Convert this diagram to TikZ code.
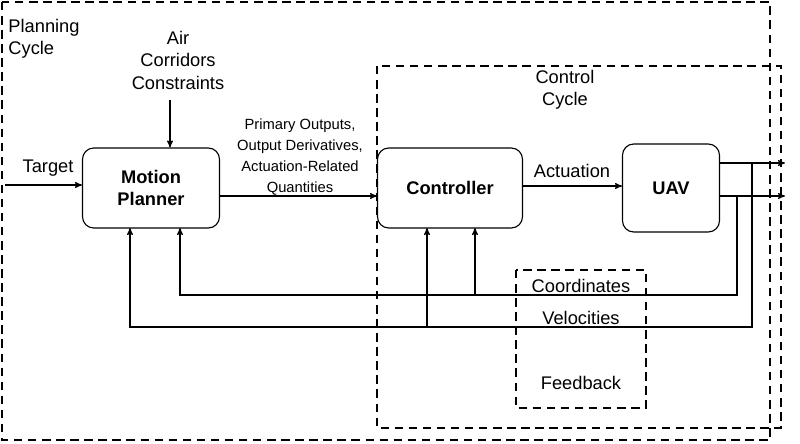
\documentclass[tikz,border=0pt]{standalone}
\usepackage{fontspec}
\setmainfont{Liberation Sans}
\usetikzlibrary{positioning}
\usetikzlibrary{arrows}
\begin{document}
\begin{tikzpicture}[x=0.025cm,y=-0.025cm,->,>=stealth',thick,
	block/.style={draw,rounded corners=8pt,font=\fontsize{13}{16}\selectfont\bfseries,align=center},
	lbl/.style={font=\fontsize{13}{16}\selectfont,align=center},
	small/.style={font=\fontsize{10.5}{15}\selectfont,align=center},
	frame/.style={draw,dash pattern=on 6pt off 4pt,-}]
	
	\useasboundingbox (0,0) rectangle (800,443);
	\draw[frame] (2,2) rectangle (770,440);
	\draw[frame] (377,66) rectangle (781,428);
	\draw[frame] (516,270) rectangle (646,408);
	
	\node[block,minimum width=137*0.025cm,minimum height=80*0.025cm] (mp) at (151,188) {Motion\\Planner};
	\node[block,minimum width=145*0.025cm,minimum height=80*0.025cm] (ctrl) at (450,188) {Controller};
	\node[block,minimum width=97*0.025cm,minimum height=88*0.025cm] (uav) at (671,188) {UAV};
	
	\node[lbl,align=left] (plan) at (44,39) {Planning\\Cycle};
	\node[lbl] (ctl) at (565,90) {Control\\Cycle};
	\node[lbl] (air) at (178,60) {Air\\Corridors\\Constraints};
	\node[lbl] (tgt) at (48,168) {Target};
	\node[small] (out) at (300,157) {Primary Outputs,\\Output Derivatives,\\Actuation-Related\\Quantities};
	\node[lbl] (act) at (572,171) {Actuation};
	\node[lbl] (crd) at (581,286) {Coordinates};
	\node[lbl] (vel) at (581,318) {Velocities};
	\node[lbl] (fb) at (581,383) {Feedback};
	
	\coordinate (tin) at (5,185);
	\coordinate (ain) at (170,100);
	\coordinate (o1) at (785,163);
	\coordinate (o2) at (785,196);
	
	\draw (tin) -- (tin -| mp.west);
	\draw (ain) -- (ain |- mp.north);
	\draw (mp.east |- 0,196) -- (ctrl.west |- 0,196);
	\draw (ctrl.east |- 0,186) -- (uav.west |- 0,186);
	\draw (uav.east |- o1) -- (o1);
	\draw (uav.east |- o2) -- (o2);
	
	\draw (737,196) -- (737,295) -- (180,295) -- (180,228);
	\draw (752,163) -- (752,327) -- (130,327) -- (130,228);
	\draw (475,295) -- (475,228);
	\draw (427,327) -- (427,228);
\end{tikzpicture}
\end{document}
